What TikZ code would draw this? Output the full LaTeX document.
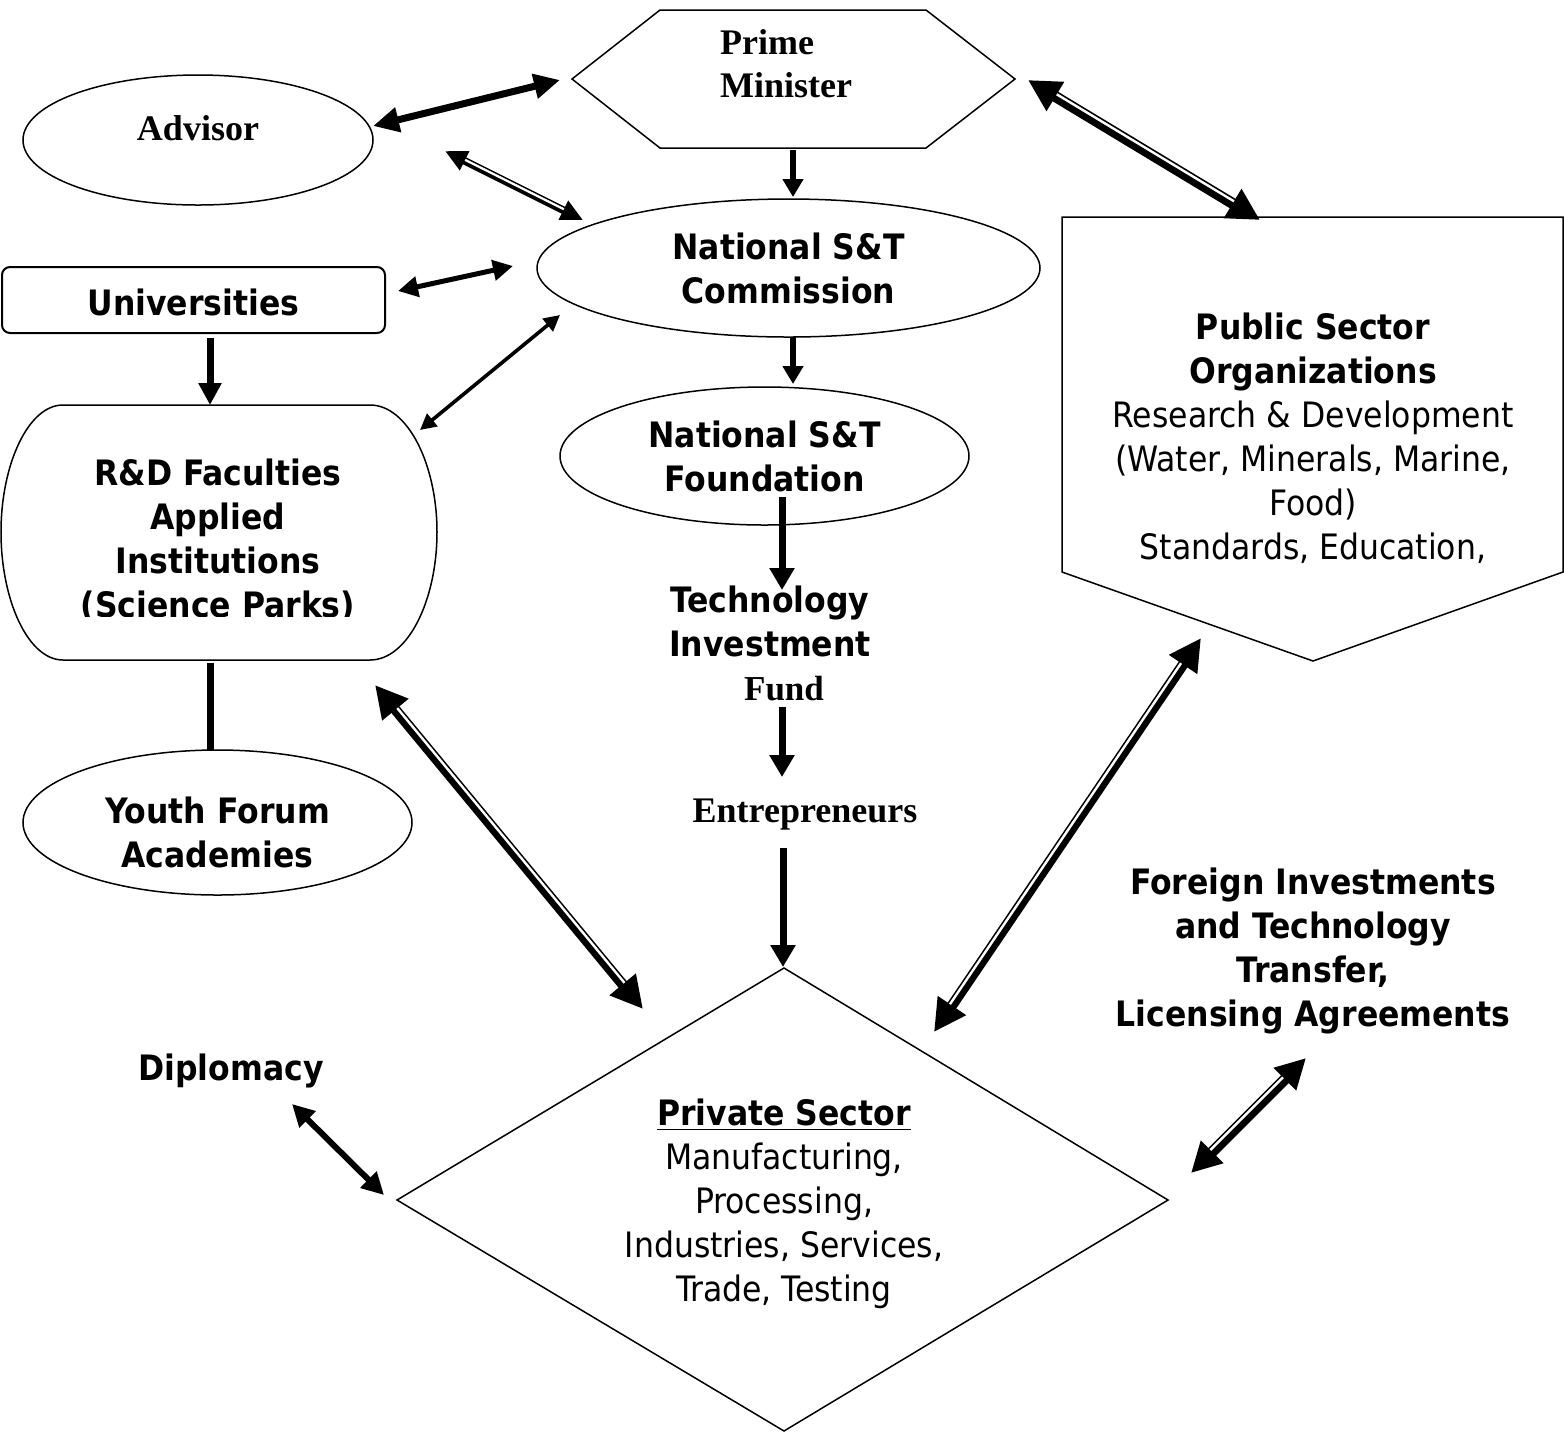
\documentclass[tikz,border=0pt]{standalone}
\usepackage{fontspec}
\setmainfont{Liberation Serif}
\setsansfont{DejaVu Sans Condensed}
\usetikzlibrary{arrows.meta,calc,shapes.geometric}
% compound (thick-thin) double-headed arrow
% #1 from, #2 to, #3 total width, #4 white width, #5 offset, #6 head length, #7 head width, #8 angle at start, #9 angle at end
\newcommand\cmpd[9]{%
  \draw[darrow={#3}{#6}{#7}] (#1) -- (#2);
  \draw[white, line width=#4] ($(#1)!#6!(#2)!#5!#8:(#2)$) -- ($(#2)!#6!(#1)!#5!#9:(#1)$);
}
\begin{document}
\begin{tikzpicture}[x=0.5pt,y=-0.5pt,
  outl/.style={draw, line width=0.75pt},
  ell/.style={outl, ellipse, inner sep=0pt},
  sansbf/.style={font=\sffamily\bfseries\fontsize{17.5pt}{22pt}\selectfont, align=center, inner sep=0pt},
  sansrg/.style={font=\sffamily\fontsize{17.5pt}{22pt}\selectfont, align=center, inner sep=0pt},
  serifbf/.style={font=\rmfamily\bfseries\fontsize{18pt}{21.5pt}\selectfont, align=center, inner sep=0pt},
  sarrow/.style n args={3}{line width=#1, -{Triangle[length=#2,width=#3]}},
  darrow/.style n args={3}{line width=#1, {Triangle[length=#2,width=#3]}-{Triangle[length=#2,width=#3]}},
]
\useasboundingbox[fill=white] (0,0) rectangle (1564,1432);

% ---------- shapes ----------
% Prime Minister hexagon
\draw[outl] (572,79) -- (660,10) -- (926,10) -- (1015,79) -- (926,148) -- (660,148) -- cycle;
\node[serifbf, align=left] (pm) at (786,64) {Prime\\Minister};

% Advisor
\node[ell, minimum width=175pt, minimum height=65pt, serifbf, text height=12pt, text depth=12pt] (advisor) at (198,140) {Advisor};

% National S&T Commission
\node[ell, minimum width=251.5pt, minimum height=69pt, sansbf] (commission) at (788.5,268) {National S\&T\\Commission};

% Universities
\node[outl, line width=1pt, rounded corners=4pt, minimum width=191.5pt, minimum height=33pt] (univbox) at (193.5,300) {};
\node[sansbf] (univ) at (193.5,302) {Universities};

% R&D faculties shape
\draw[outl] (63,405) -- (370,405) .. controls (408,405) and (437,465) .. (437,532)
  .. controls (437,600) and (408,660) .. (370,660) -- (63,660)
  .. controls (28,660) and (1,600) .. (1,532) .. controls (1,465) and (28,405) .. (63,405) -- cycle;
\begin{scope}
  \clip (0,400) rectangle (437,616);
  \node[sansbf] (rd) at (218,540) {R\&D Faculties\\Applied\\Institutions\\(Science Parks)};
\end{scope}

% National S&T Foundation
\node[ell, minimum width=204.5pt, minimum height=69pt, sansbf] (foundation) at (764.5,456) {National S\&T\\Foundation};

% Technology Investment Fund
\node[sansbf] (fund) at (770,643) {Technology\\Investment\\{\rmfamily\hspace*{14pt}Fund}};

% Entrepreneurs
\node[serifbf] (entre) at (805,815) {Entrepreneurs};

% Youth Forum Academies
\node[ell, minimum width=194.5pt, minimum height=72.5pt] (youthshape) at (217.5,822.5) {};
\node[sansbf] (youth) at (217.5,832) {Youth Forum\\Academies};

% Public Sector pentagon
\draw[outl] (1062,217) -- (1563,217) -- (1563,572) -- (1313,661) -- (1062,572) -- cycle;
\node[sansrg] (public) at (1313,438) {\textbf{Public Sector}\\\textbf{Organizations}\\Research \& Development\\(Water, Minerals, Marine,\\Food)\\Standards, Education,};

% Foreign investments
\node[sansbf] (foreign) at (1313,951) {Foreign Investments\\and Technology\\Transfer,\\Licensing Agreements};

% Diplomacy
\node[sansbf] (diplomacy) at (231,1071) {Diplomacy};

% Private Sector diamond
\draw[outl] (784,968) -- (1168,1200) -- (784,1431) -- (397,1200) -- cycle;
\node[sansrg] (private) at (784,1204) {\textbf{\underline{Private Sector}}\\Manufacturing,\\Processing,\\Industries, Services,\\Trade, Testing};

% ---------- connector end points ----------
\coordinate (advpmA) at (373,126);  \coordinate (advpmB) at (560,80);
\coordinate (advcoA) at (445,151);  \coordinate (advcoB) at (583,220);
\coordinate (pmpubA) at (1028,80);  \coordinate (pmpubB) at (1260,220);
\coordinate (unicoA) at (398,291);  \coordinate (unicoB) at (513,266);
\coordinate (cordA) at (560,315);   \coordinate (cordB) at (420,430);
\coordinate (unirdA) at (210,338);  \coordinate (unirdB) at (210,405);
\coordinate (pmcoA) at (793,150);   \coordinate (pmcoB) at (793,197);
\coordinate (cofoA) at (793,337);   \coordinate (cofoB) at (793,384);
\coordinate (fotiA) at (782,497);   \coordinate (fotiB) at (782,590);
\coordinate (fuenA) at (782,707);   \coordinate (fuenB) at (782,777);
\coordinate (enprA) at (783,848);   \coordinate (enprB) at (783,967);
\coordinate (rdyoA) at (210,663);   \coordinate (rdyoB) at (210,750);
\coordinate (rdprA) at (375,685);   \coordinate (rdprB) at (643,1009);
\coordinate (puprA) at (1201,638);  \coordinate (puprB) at (934,1032);
\coordinate (foprA) at (1306,1058); \coordinate (foprB) at (1191,1173);
\coordinate (dipA) at (292,1104);   \coordinate (dipB) at (384,1195);

% ---------- connectors ----------
\draw[darrow={3.5pt}{13pt}{12pt}] (advpmA) -- (advpmB);
\cmpd{advcoA}{advcoB}{3.8pt}{1.1pt}{0.55pt}{11pt}{10pt}{90}{-90}
\cmpd{pmpubA}{pmpubB}{5.5pt}{1.2pt}{1.3pt}{16pt}{16pt}{90}{-90}
\draw[darrow={2.5pt}{10pt}{10pt}] (unicoA) -- (unicoB);
\draw[darrow={1.8pt}{8pt}{8pt}] (cordA) -- (cordB);
\draw[sarrow={3.5pt}{11pt}{11pt}] (unirdA) -- (unirdB);
\draw[sarrow={3pt}{9pt}{10pt}] (pmcoA) -- (pmcoB);
\draw[sarrow={3pt}{9pt}{10pt}] (cofoA) -- (cofoB);
\draw[sarrow={3.5pt}{11pt}{12pt}] (fotiA) -- (fotiB);
\draw[sarrow={3.5pt}{11pt}{12pt}] (fuenA) -- (fuenB);
\draw[sarrow={3.5pt}{11pt}{12pt}] (enprA) -- (enprB);
\draw[line width=3.5pt] (rdyoA) -- (rdyoB);
\cmpd{rdprA}{rdprB}{5.2pt}{1.2pt}{1.2pt}{16pt}{16pt}{90}{-90}
\cmpd{puprA}{puprB}{5.2pt}{1.2pt}{1.2pt}{16pt}{16pt}{-90}{90}
\cmpd{foprA}{foprB}{5.5pt}{1.2pt}{1.3pt}{15pt}{15pt}{-90}{90}
\draw[darrow={3pt}{11pt}{11pt}] (dipA) -- (dipB);
\end{tikzpicture}
\end{document}
